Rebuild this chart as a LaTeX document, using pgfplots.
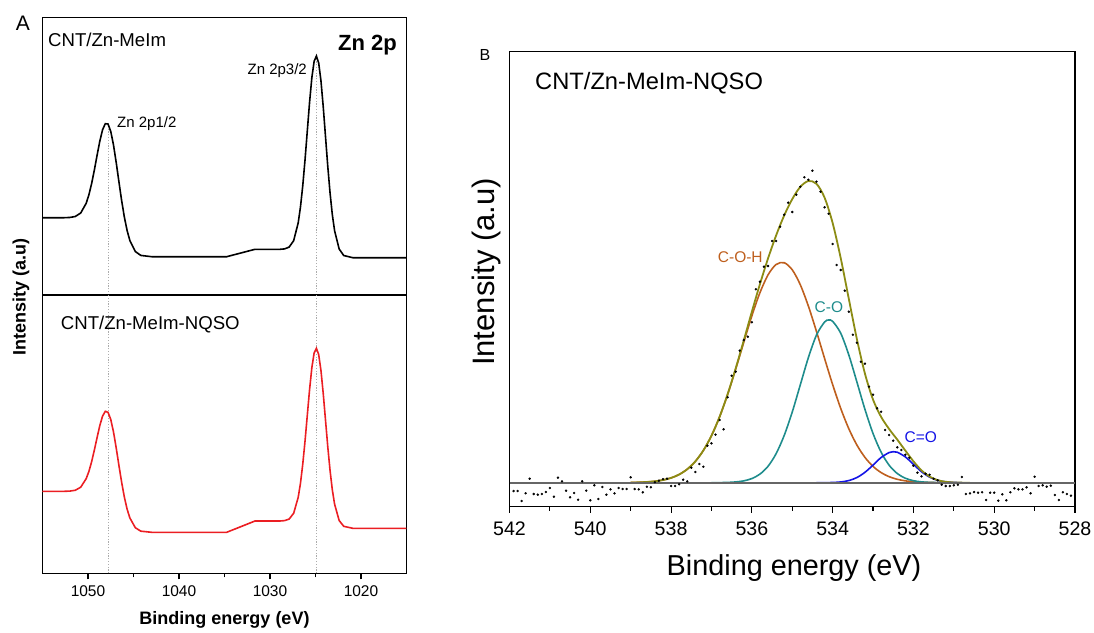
\documentclass[border=0pt]{standalone}
\usepackage{pgfplots}
\pgfplotsset{compat=1.18}
\usepackage{fontspec}
\setmainfont{Liberation Sans}
\definecolor{envc}{RGB}{140,140,20}
\definecolor{cohc}{RGB}{190,95,30}
\definecolor{coc}{RGB}{30,140,140}
\definecolor{cdoc}{RGB}{20,20,230}
\definecolor{redc}{RGB}{235,30,35}
\newcommand\fs[1]{\fontsize{#1}{#1}\selectfont}
\begin{document}
\begin{tikzpicture}[x=1pt,y=1pt]
\pgfplotsset{
  myaxis/.style={scale only axis, axis line style={line width=1.2pt}, ytick=\empty,
    tick align=outside, xtick pos=bottom, major tick length=6pt, minor tick length=4pt,
    every tick/.style={black, line width=1.1pt},
    /pgf/number format/assume math mode=true, /pgf/number format/1000 sep={}},
  guide/.style={gray!65, dash pattern=on 1.2pt off 1.6pt, line width=0.7pt},
}
% ---------------- Panel A top
\begin{axis}[myaxis, anchor=center, at={(224.5pt,-156.15pt)}, width=364pt, height=277.7pt,
  xmin=1015, xmax=1055, x dir=reverse, ymin=0, ymax=277.7, xtick=\empty]
\addplot[guide] coordinates {(1047.8,0) (1047.8,166)};
\addplot[guide] coordinates {(1024.9,0) (1024.9,238)};
\addplot[black, line width=1.6pt] coordinates {
(1055,77.3) (1052.6,77.3) (1052.0,77.55) (1051.4,78.5) (1050.8,82.0) (1050.2,91.7) (1049.9,100.2) (1049.6,111.5) (1049.3,125.0) (1049.0,139.8) (1048.7,153.9) (1048.4,165.2) (1048.1,171.3) (1047.8,171) (1047.5,163.6) (1047.2,150.2) (1046.9,132.5) (1046.6,113.2) (1046.3,94.2) (1046.0,77.7) (1045.7,64.4) (1045.4,54.5) (1044.8,43.5) (1044.2,39.6) (1043.0,38.3) (1034.76,38.3) (1031.65,45.7) (1028.9,45.7) (1028.4,46.1) (1027.9,47.9) (1027.4,54.3) (1026.9,72.2) (1026.65,88.1) (1026.4,109.3) (1026.15,135.2) (1025.9,164.1) (1025.65,192.9) (1025.4,217.4) (1025.15,233.7) (1024.9,239) (1024.65,232.1) (1024.4,214.2) (1024.15,188.3) (1023.9,158.4) (1023.65,128.6) (1023.4,102.0) (1023.15,80.3) (1022.9,64.2) (1022.4,46.0) (1021.9,39.5) (1020.9,37.3) (1015,37.3)};
\end{axis}
% ---------------- Panel A bottom
\begin{axis}[myaxis, anchor=center, at={(224.5pt,-434.15pt)}, width=364pt, height=278.3pt,
  xmin=1015, xmax=1055, x dir=reverse, ymin=0, ymax=278.3,
  xtick={1020,1030,1040,1050}, minor xtick={1025,1035,1045},
  xticklabel style={font=\fs{15.5}, yshift=-3pt}]
\addplot[guide] coordinates {(1047.8,0) (1047.8,278.3)};
\addplot[guide] coordinates {(1024.9,0) (1024.9,278.3)};
\addplot[redc, line width=1.6pt] coordinates {
(1055,82) (1052.6,82) (1052.0,82.2) (1051.4,83.05) (1050.8,86.1) (1050.2,94.6) (1049.9,101.9) (1049.6,111.6) (1049.3,123.3) (1049.0,135.8) (1048.7,147.8) (1048.4,157.2) (1048.1,162.0) (1047.8,161) (1047.5,153.9) (1047.2,141.5) (1046.9,125.4) (1046.6,107.8) (1046.3,90.9) (1046.0,76.0) (1045.7,64.1) (1045.4,55.4) (1044.8,45.6) (1044.2,42.15) (1043.0,41) (1034.76,41) (1031.65,52.3) (1028.9,52.3) (1028.4,52.7) (1027.9,54.25) (1027.4,60.0) (1026.9,76.0) (1026.65,90.1) (1026.4,109.1) (1026.15,132.2) (1025.9,158.1) (1025.65,183.8) (1025.4,205.7) (1025.15,220.3) (1024.9,225) (1024.65,218.8) (1024.4,202.9) (1024.15,179.8) (1023.9,153.2) (1023.65,126.5) (1023.4,102.8) (1023.15,83.4) (1022.9,69.1) (1022.4,52.8) (1021.9,47.0) (1020.9,45) (1015,45)};
\end{axis}
\node[font=\fs{21}] at (23,-23) {A};
\node[font=\fs{18.6}, anchor=west, inner sep=0] at (48,-40) {CNT/Zn-MeIm};
\node[font=\bfseries\fs{22}, anchor=east, inner sep=0] at (397,-45) {Zn 2p};
\node[font=\fs{15}, anchor=west, inner sep=0] at (117,-123.3) {Zn 2p1/2};
\node[font=\fs{15}, anchor=east, inner sep=0] at (307,-71) {Zn 2p3/2};
\node[font=\fs{18.6}, anchor=west, inner sep=0] at (60.7,-325) {CNT/Zn-MeIm-NQSO};
\node[font=\bfseries\fs{18}, rotate=90] at (21,-297) {Intensity (a.u)};
\node[font=\bfseries\fs{18}] at (224.5,-620) {Binding energy (eV)};
% ---------------- Panel B
\begin{axis}[myaxis, anchor=center, at={(792.25pt,-279.1pt)}, width=565.5pt, height=454.8pt,
  xmin=528, xmax=542, x dir=reverse, ymin=-23.8, ymax=431,
  xtick={528,530,...,542}, minor xtick={529,531,...,541},
  xticklabel style={font=\fs{19.6}, yshift=-6pt}]
\addplot[cohc, line width=1.6pt, smooth] coordinates {
(539.0,0.18) (538.8,0.37) (538.6,0.74) (538.4,1.44) (538.2,2.68) (538.0,4.78) (537.8,8.2) (537.6,13.5) (537.4,21.3) (537.2,32.3) (537.0,47.0) (536.8,65.7) (536.6,88.2) (536.4,113.6) (536.2,140.4) (536.0,166.8) (535.8,190.0) (535.6,207.8) (535.4,218.2) (535.2,220.0) (535.0,212.9) (534.8,197.9) (534.6,176.5) (534.4,151.2) (534.2,124.3) (534.0,98.1) (533.8,74.3) (533.6,54.0) (533.4,37.7) (533.2,25.3) (533.0,16.3) (532.8,10.1) (532.6,6.0) (532.4,3.4) (532.2,1.85) (532.0,0.97) (531.8,0.49) (531.6,0.24) (531.4,0.1)};
\addplot[coc, line width=1.6pt, smooth] coordinates {
(537.0,0.03) (536.8,0.10) (536.6,0.29) (536.4,0.76) (536.2,1.85) (536.0,4.15) (535.8,8.6) (535.6,16.4) (535.4,29.0) (535.2,47.2) (535.0,70.7) (534.8,98.0) (534.6,125.2) (534.4,147.7) (534.2,160.7) (534.1,162.7) (534.0,161.4) (533.8,149.5) (533.6,127.8) (533.4,100.8) (533.2,73.3) (533.0,49.2) (532.8,30.5) (532.6,17.4) (532.4,9.2) (532.2,4.47) (532.0,2.0) (531.8,0.83) (531.6,0.32) (531.4,0.11) (531.2,0.04)};
\addplot[cdoc, line width=1.6pt, smooth] coordinates {
(534.4,0.01) (534.2,0.05) (534.0,0.22) (533.8,0.75) (533.6,2.14) (533.4,5.14) (533.2,10.4) (533.0,17.6) (532.8,25.2) (532.6,30.2) (532.5,31.0) (532.4,30.5) (532.2,25.8) (532.0,18.4) (531.8,11.0) (531.6,5.56) (531.4,2.35) (531.2,0.84) (531.0,0.25) (530.8,0.06)};
\addplot[envc, line width=1.8pt, smooth] coordinates {
(539.0,0.18) (538.8,0.37) (538.6,0.74) (538.4,1.44) (538.2,2.68) (538.0,4.78) (537.8,8.2) (537.6,13.5) (537.4,21.3) (537.2,32.3) (537.0,47.0) (536.8,65.8) (536.6,88.5) (536.4,114.4) (536.2,142.3) (536.0,171.0) (535.8,198.6) (535.6,224.2) (535.4,247.2) (535.2,267.2) (535.0,283.6) (534.8,295.9) (534.6,301.7) (534.4,298.9) (534.2,285.1) (534.0,259.7) (533.8,224.6) (533.6,183.9) (533.4,143.6) (533.2,109.0) (533.0,83.1) (532.8,65.8) (532.6,53.6) (532.4,43.1) (532.2,32.1) (532.0,21.4) (531.8,12.3) (531.6,6.1) (531.4,2.56) (531.2,0.92) (531.0,0.26) (530.8,0.06) (530.6,0.01)};
\addplot[gray!80!black, line width=2pt] coordinates {(542,0) (528,0)};
\addplot[only marks, mark=*, mark size=1.0pt, black] coordinates {
(541.9,-8.3) (541.8,-8.3) (541.7,-18.3) (541.6,-10.6) (541.5,4.0) (541.4,-11.3) (541.3,-12) (541.2,-11.3) (541.1,-9.3) (541.0,-5.3) (540.9,-14) (540.8,5.0) (540.7,1.4) (540.6,-8) (540.5,-14.6) (540.4,-10.3) (540.3,-17) (540.2,1.4) (540.1,-8) (540.0,-17.6) (539.9,-2.6) (539.8,-16.3) (539.7,-4.3) (539.6,-12) (539.5,-6.6) (539.4,-10.6) (539.3,-5.3) (539.2,-6.3) (539.1,-6.3) (539.0,5.4) (538.9,-6.3) (538.8,-6.6) (538.7,-9.6) (538.6,-4) (538.5,-4.6) (538.4,0.5) (538.3,2) (538.2,3.5) (538.1,4.0) (538.0,-3.3) (537.9,-3.3) (537.8,-1.6) (537.7,3) (537.6,1.4) (537.5,15) (537.4,10.7) (537.3,18.7) (537.2,16) (537.1,37) (537.0,39.4) (536.9,48) (536.8,62.7) (536.7,53.4) (536.6,85.4) (536.5,107) (536.4,111) (536.3,132) (536.2,142.7) (536.1,146) (536.0,160.4) (535.9,193.4) (535.8,201) (535.7,216) (535.6,216.7) (535.5,241.7) (535.4,241.7) (535.3,256) (535.2,268) (535.1,280) (535.0,270.7) (534.9,288) (534.8,296) (534.7,305.4) (534.6,303) (534.5,312) (534.4,301) (534.3,291) (534.2,275.4) (534.1,269) (534.0,238.7) (533.9,217.7) (533.8,212.7) (533.7,192) (533.6,171) (533.5,148) (533.4,140) (533.3,121) (533.2,119) (533.1,96) (533.0,88) (532.9,74.4) (532.8,71) (532.7,52.7) (532.6,47.7) (532.5,42) (532.4,35.4) (532.3,32.7) (532.2,28) (532.1,25) (532.0,17) (531.9,10) (531.8,6.4) (531.7,9) (531.6,8) (531.5,4) (531.4,2.4) (531.3,-2) (531.2,-3.3) (531.1,-3.3) (531.0,-2.6) (530.9,-2) (530.8,5.7) (530.7,-11.3) (530.6,-10.6) (530.5,-9.3) (530.4,-10) (530.3,-9.6) (530.2,-17.3) (530.1,-10) (530.0,-10) (529.9,-18) (529.8,-11.6) (529.7,-17.6) (529.6,-9.6) (529.5,-5.6) (529.4,-6.6) (529.3,-6.6) (529.2,-4.6) (529.1,-10.6) (529.0,6) (528.9,-3.3) (528.8,-2.6) (528.7,-4) (528.6,-3) (528.5,-12.3) (528.4,-17.3) (528.3,-9.6) (528.2,-11.3) (528.1,-13)};
\end{axis}
\node[font=\fs{16}] at (485,-55) {B};
\node[font=\fs{23.7}, anchor=west, inner sep=0] at (535,-82.7) {CNT/Zn-MeIm-NQSO};
\node[font=\fs{31}, rotate=90] at (486.7,-272) {Intensity (a.u)};
\node[font=\fs{28.8}] at (794,-568) {Binding energy (eV)};
\node[font=\fs{15.5}, text=cohc, anchor=west, inner sep=0] at (717.7,-257.3) {C-O-H};
\node[font=\fs{15.5}, text=coc, anchor=west, inner sep=0] at (814.5,-306.7) {C-O};
\node[font=\fs{15.5}, text=cdoc, anchor=west, inner sep=0] at (904.5,-437.3) {C=O};
\pgfresetboundingbox
\useasboundingbox (0,0) rectangle (1094,-632);
\end{tikzpicture}
\end{document}
